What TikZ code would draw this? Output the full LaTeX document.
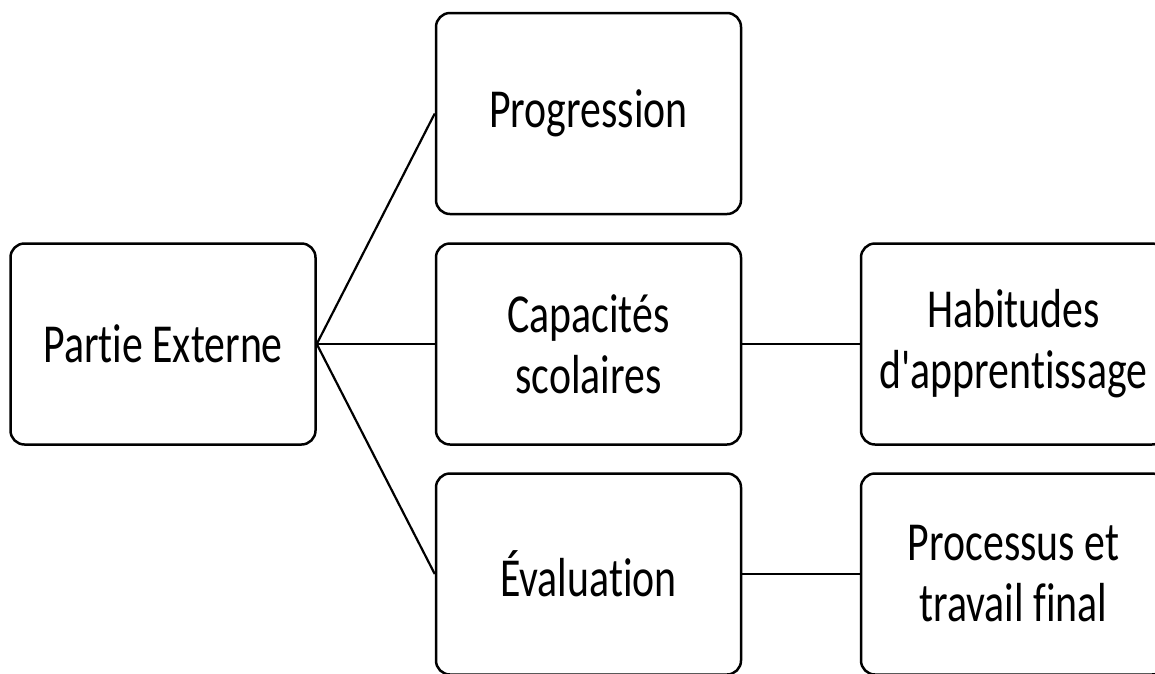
\documentclass[tikz,border=0pt]{standalone}
\usepackage{fontspec}
\newfontfamily\cf[FakeStretch=0.76,Ligatures={TeXOff,NoCommon,NoContextual},Contextuals=NoAlternate]{Carlito}
\begin{document}
\begin{tikzpicture}[x=1pt,y=-1pt,
  box/.style={draw, line width=2.5pt, rounded corners=14pt, minimum width=305pt, minimum height=201pt,
    inner sep=0pt, align=center, font=\cf\fontsize{55}{61}\selectfont},
  link/.style={line width=2.2pt}]
\useasboundingbox (0,0) rectangle (1155,673);
\clip (0,0) rectangle (1155,673);
\node[box] (pe) at (163,344) {Partie Externe};
\node[box] (pr) at (588.5,113.5) {Progression};
\node[box] (ca) at (588.5,344) {Capacités\\scolaires};
\node[box] (ev) at (588.5,574) {Évaluation};
\node[box] (ha) at (1013.5,344) {Habitudes\\d'apprentissage};
\node[box] (po) at (1013.5,574) {Processus et\\travail final};
\draw[link] (pe.east) -- (pr.west);
\draw[link] (pe.east) -- (ca.west);
\draw[link] (pe.east) -- (ev.west);
\draw[link] (ca.east) -- (ha.west);
\draw[link] (ev.east) -- (po.west);
\end{tikzpicture}
\end{document}
